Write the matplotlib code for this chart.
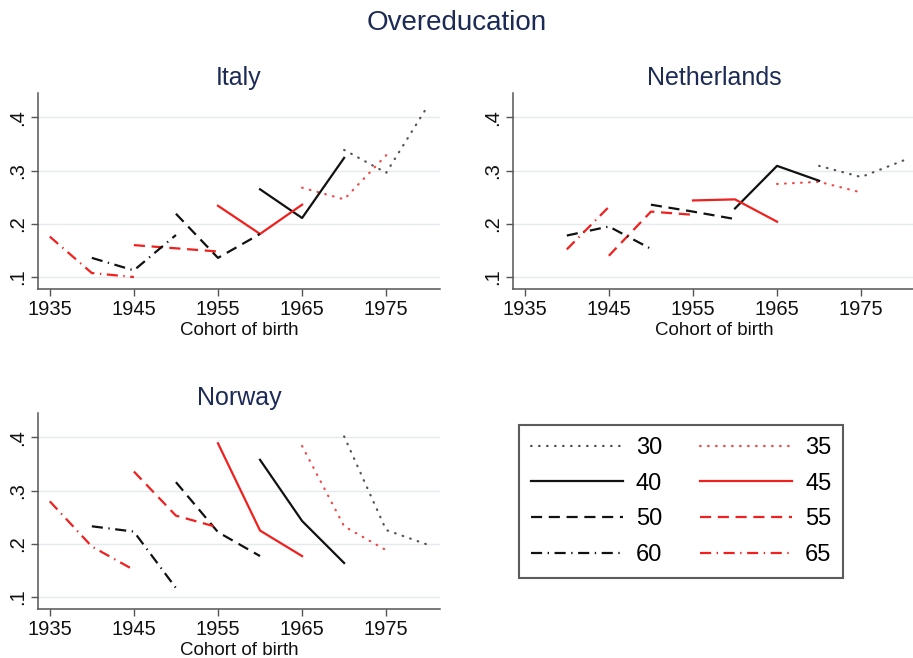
import matplotlib.pyplot as plt

# age groups and the birth cohorts each one is observed at
ages = [30, 35, 40, 45, 50, 55, 60, 65]
cohorts = {
    30: [1970, 1975, 1980],
    35: [1965, 1970, 1975],
    40: [1960, 1965, 1970],
    45: [1955, 1960, 1965],
    50: [1950, 1955, 1960],
    55: [1945, 1950, 1955],
    60: [1940, 1945, 1950],
    65: [1935, 1940, 1945],
}

# share overeducated
italy = {
    30: [0.339, 0.296, 0.423],
    35: [0.268, 0.246, 0.329],
    40: [0.265, 0.211, 0.324],
    45: [0.234, 0.181, 0.236],
    50: [0.219, 0.136, 0.181],
    55: [0.160, 0.154, 0.148],
    60: [0.136, 0.1125, 0.179],
    65: [0.176, 0.1075, 0.100],
}
netherlands = {
    30: [0.309, 0.288, 0.319],
    35: [0.275, 0.279, 0.259],
    40: [0.229, 0.309, 0.281],
    45: [0.244, 0.246, 0.204],
    50: [0.236, 0.223, 0.209],
    55: [0.140, 0.223, 0.217],
    60: [0.178, 0.195, 0.153],
    65: [float('nan'), 0.152, 0.232],
}
norway = {
    30: [0.402, 0.226, 0.198],
    35: [0.384, 0.233, 0.188],
    40: [0.358, 0.243, 0.164],
    45: [0.389, 0.225, 0.177],
    50: [0.316, 0.222, 0.177],
    55: [0.336, 0.253, 0.231],
    60: [0.233, 0.223, 0.117],
    65: [0.280, 0.195, 0.151],
}

xticks = [1935, 1945, 1955, 1965, 1975]
yticks = [0.1, 0.2, 0.3, 0.4]
ytick_labels = ['.1', '.2', '.3', '.4']

RED = '#f0201e'
BLACK = '#111111'
NAVY = '#1c2a56'
DOT = (0, (0.3, 3.3))
DASH = (0, (5, 3))
DASHDOT = (0, (5, 2.5, 0.6, 2.5))
styles = {
    30: ('#555555', DOT), 35: ('#f04a48', DOT),
    40: (BLACK, '-'), 45: (RED, '-'),
    50: (BLACK, DASH), 55: (RED, DASH),
    60: (BLACK, DASHDOT), 65: (RED, DASHDOT),
}

plt.rcParams['font.family'] = ['Liberation Sans', 'DejaVu Sans']

W, H = 913, 658


def draw_panel(ax, values, title):
    lines = {}
    for age in ages:
        color, ls = styles[age]
        cap = 'round' if ls == DOT else 'butt'
        lines[age], = ax.plot(cohorts[age], values[age], color=color, linestyle=ls,
                              lw=1.6, dash_capstyle=cap)
    ax.set_xlim(1933.6, 1981.4)
    ax.set_ylim(0.0775, 0.446)
    ax.set_xticks(xticks)
    ax.set_yticks(yticks)
    ax.set_yticklabels(ytick_labels, rotation=90, va='center')
    ax.grid(axis='y', color='#e3ebee', lw=1)
    ax.set_axisbelow(True)
    for s in ['top', 'right']:
        ax.spines[s].set_visible(False)
    for s in ['left', 'bottom']:
        ax.spines[s].set_color('#555555')
        ax.spines[s].set_linewidth(1.1)
    ax.tick_params(direction='out', length=5, width=1, color='#555555',
                   labelsize=14.5, pad=3, labelcolor='#111111')
    ax.set_xlabel('Cohort of birth', fontsize=13.5, labelpad=2, color='#111111')
    ax.set_title(title, fontsize=18, color=NAVY, pad=6)
    return lines


fig = plt.figure(figsize=(W / 100, H / 100), dpi=100)

ax_it = fig.add_axes([38 / W, 1 - 289 / H, 402 / W, 196 / H])
ax_nl = fig.add_axes([513 / W, 1 - 289 / H, 402 / W, 196 / H])
ax_no = fig.add_axes([38 / W, 1 - 609 / H, 402 / W, 196 / H])

lines = draw_panel(ax_it, italy, 'Italy')
draw_panel(ax_nl, netherlands, 'Netherlands')
draw_panel(ax_no, norway, 'Norway')

fig.text(0.5, 1 - 30 / H, 'Overeducation', ha='center', va='baseline',
         fontsize=20, color=NAVY)

# legend: two columns, row by row 30/35, 40/45, ...
order = [30, 40, 50, 60, 35, 45, 55, 65]
leg = fig.legend([lines[a] for a in order], [str(a) for a in order],
                 loc='upper left', bbox_to_anchor=(519 / W, 1 - 425 / H),
                 ncol=2, fontsize=17, frameon=True, fancybox=False,
                 edgecolor='#333333', handlelength=3.9, handletextpad=0.55,
                 columnspacing=1.6, labelspacing=0.58, borderpad=0.5,
                 borderaxespad=0)
leg.get_frame().set_linewidth(1.5)

fig.savefig('out.png', dpi=100)
